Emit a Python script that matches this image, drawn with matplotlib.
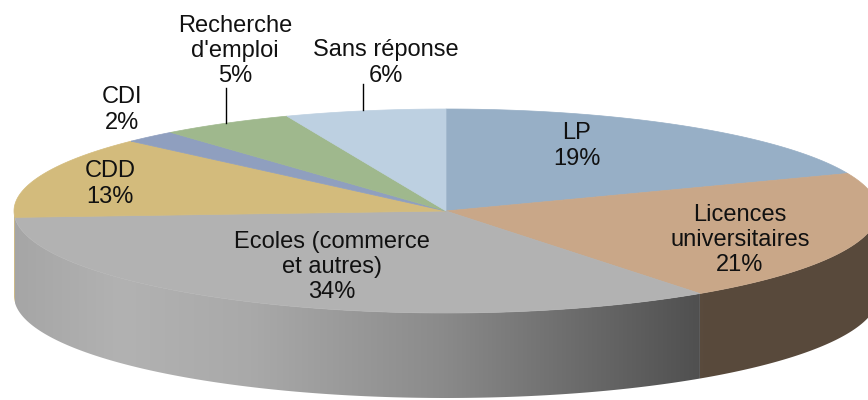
import numpy as np
import matplotlib.pyplot as plt
from matplotlib.patches import Polygon

# data
labels = ['LP', 'Licences\nuniversitaires', 'Ecoles (commerce\net autres)',
          'CDD', 'CDI', "Recherche\nd'emploi", 'Sans réponse']
values = [19, 21, 34, 13, 2, 5, 6]
colors = ['#97AFC6', '#C9A788', '#B2B2B2', '#D3BB7C', '#8F9FBF', '#9FB88D', '#BDD0E1']

plt.rcParams['font.family'] = ['Liberation Sans', 'DejaVu Sans']

# pie geometry in pixels
cx, cy = 446, 211
a, b = 432, 102
depth = 85

fig = plt.figure(figsize=(8.68, 4.0), dpi=100)
ax = fig.add_axes([0, 0, 1, 1])
ax.set_xlim(0, 868)
ax.set_ylim(400, 0)
ax.axis('off')


def pt(t):
    # t in degrees clockwise from 12 o'clock
    r = np.radians(t)
    return cx + a * np.sin(r), cy - b * np.cos(r)


def shade(x):
    # lighting along the wall, lighter at left, darker at right
    return np.interp(x, [14, 120, 250, 440, 580, 705, 868],
                     [0.93, 1.0, 0.95, 0.78, 0.6, 0.44, 0.44])


total = sum(values)
edges = np.concatenate([[0], np.cumsum(values)]) / total * 360

# side walls (front half only)
for i in range(len(values)):
    t1, t2 = max(edges[i], 90), min(edges[i + 1], 270)
    if t2 <= t1:
        continue
    ts = np.linspace(t1, t2, 200)
    xs, ys = pt(ts)
    poly = np.vstack([np.column_stack([xs, ys]),
                      np.column_stack([xs[::-1], ys[::-1] + depth])])
    patch = Polygon(poly, closed=True, facecolor='none', edgecolor='none')
    ax.add_patch(patch)
    x0, x1 = xs.min(), xs.max()
    y0, y1 = ys.min(), ys.max() + depth
    gx = np.linspace(x0, x1, 300)
    base = np.array(plt.matplotlib.colors.to_rgb(colors[i]))
    img = np.clip(shade(gx)[:, None] * base[None, :], 0, 1)[None, :, :]
    im = ax.imshow(img, extent=(x0, x1, y1, y0), aspect='auto',
                   interpolation='bilinear', zorder=1)
    im.set_clip_path(patch)

# top faces
for i in range(len(values)):
    ts = np.linspace(edges[i], edges[i + 1], 200)
    xs, ys = pt(ts)
    poly = np.vstack([[cx, cy], np.column_stack([xs, ys])])
    ax.add_patch(Polygon(poly, closed=True, facecolor=colors[i],
                         edgecolor=colors[i], linewidth=0.5, zorder=2))

# labels
pos = [(577, 146), (740, 240), (332, 267), (110, 184), (122, 110),
       (235, 51), (386, 63)]
for i, (lx, ly) in enumerate(pos):
    ax.text(lx, ly, f'{labels[i]}\n{values[i]}%', ha='center', va='center',
            fontsize=17, linespacing=1.2, color='#111111', zorder=5)

# leader lines
ax.plot([226, 226], [88, 123], color='black', lw=1, zorder=4)
ax.plot([363, 363], [84, 110], color='black', lw=1, zorder=4)

fig.savefig('out.png', dpi=100)
